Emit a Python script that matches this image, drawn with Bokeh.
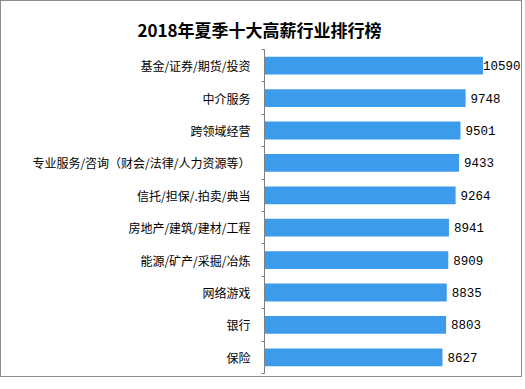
from bokeh.plotting import figure
from bokeh.models import (Range1d, LinearAxis, FixedTicker, ColumnDataSource)
from bokeh.core.properties import value
from bokeh.embed import file_html
from bokeh.resources import INLINE

title_text = "2018年夏季十大高薪行业排行榜"
industries = ["基金/证券/期货/投资", "中介服务", "跨领域经营",
              "专业服务/咨询（财会/法律/人力资源等）", "信托/担保/.拍卖/典当",
              "房地产/建筑/建材/工程", "能源/矿产/采掘/冶炼", "网络游戏", "银行", "保险"]
salaries = [10590, 9748, 9501, 9433, 9264, 8941, 8909, 8835, 8803, 8627]

CJK = "Noto Sans CJK SC"
W, H = 522, 377
XMAX = 12555

n = len(industries)
pos = [n - i for i in range(n)]          # first category at the top

p = figure(width=W, height=H, output_backend="svg", toolbar_location=None,
           y_range=Range1d(0.5, n + 0.5),
           x_range=Range1d(0, XMAX),
           x_axis_location=None, y_axis_location=None,
           min_border_left=263, min_border_right=0,
           min_border_top=48, min_border_bottom=5)
p.outline_line_color = None
p.grid.visible = False
p.background_fill_color = "white"
p.border_fill_color = "white"
p.styles = {"border": "1px solid #8c8c8c"}

# title
p.title.text = title_text
p.title.align = "left"
p.title.offset = -127
p.title.standoff = 15
p.title.text_font = CJK
p.title.text_font_size = "17px"
p.title.text_font_style = "bold"
p.title.text_color = "black"

# empty spacer between title and plot area (no ticks, no line)
spacer = LinearAxis(ticker=FixedTicker(ticks=[]),
                    axis_line_color=None, major_tick_line_color=None,
                    minor_tick_line_color=None,
                    major_tick_in=0, major_tick_out=7,
                    major_label_standoff=0)
p.add_layout(spacer, "above")

# category axis: labels at bar centres, small ticks at category boundaries
label_axis = LinearAxis(ticker=FixedTicker(ticks=pos,
                                           minor_ticks=[k + 0.5 for k in range(n + 1)]),
                        major_label_overrides={pv: lab for pv, lab in zip(pos, industries)},
                        major_tick_in=0, major_tick_out=0,
                        major_tick_line_color=None,
                        minor_tick_in=0, minor_tick_out=3,
                        minor_tick_line_color="#808080",
                        axis_line_color="#808080",
                        major_label_standoff=11,
                        major_label_text_font=CJK,
                        major_label_text_font_size="12px",
                        major_label_text_color="black")
p.add_layout(label_axis, "left")

top = max(salaries)
src = ColumnDataSource(dict(
    y=pos,
    salary=salaries,
    label=[str(v) for v in salaries],
    xoff=[0 if v == top else 5 for v in salaries],
))

p.hbar(y="y", left=0, right="salary", height=0.55, source=src,
       fill_color="#3d9bec", line_color=None)
p.text(x="salary", y="y", text="label", x_offset="xoff", source=src,
       text_baseline="middle", text_align="left",
       text_font=value("Liberation Mono"), text_font_size="12.5px",
       text_color="black")

open("out.html", "w").write(file_html(p, INLINE))
